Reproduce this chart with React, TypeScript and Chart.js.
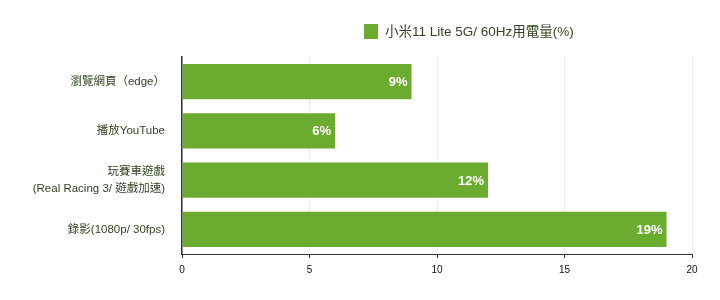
import React, { useEffect, useRef } from "react";
import { Chart, registerables } from "chart.js";

Chart.register(...registerables);

const categories: (string | string[])[] = [
  "瀏覽網頁（edge）",
  "播放YouTube",
  ["玩賽車遊戲", "(Real Racing 3/ 遊戲加速)"],
  "錄影(1080p/ 30fps)",
];
const values = [9, 6, 12, 19];
const seriesLabel = "小米11 Lite 5G/ 60Hz用電量(%)";
const xTicks = [0, 5, 10, 15, 20];

const BAR = "#6bab2f";
const TEXT = "#2f4420";
const FONT = "'Liberation Sans', 'Noto Sans CJK TC', sans-serif";

const overlay = {
  id: "overlay",
  afterDatasetsDraw(chart: any) {
    const ctx = chart.ctx;
    const meta = chart.getDatasetMeta(0);
    ctx.save();
    ctx.fillStyle = "#ffffff";
    ctx.font = `bold 13px ${FONT}`;
    ctx.textAlign = "right";
    ctx.textBaseline = "middle";
    meta.data.forEach((el: any, i: number) => {
      ctx.fillText(values[i] + "%", el.x - 4, el.y + 1);
    });
    ctx.restore();
    // legend
    ctx.save();
    const lx = 364;
    const ly = 31;
    ctx.fillStyle = BAR;
    ctx.fillRect(lx, ly - 7, 14, 15);
    ctx.fillStyle = TEXT;
    ctx.font = `13.5px ${FONT}`;
    ctx.textAlign = "left";
    ctx.textBaseline = "middle";
    ctx.fillText(seriesLabel, lx + 21, ly + 1);
    ctx.restore();
  },
};

export default function App() {
  const ref = useRef<HTMLCanvasElement>(null);
  useEffect(() => {
    if (!ref.current) return;
    const chart = new Chart(ref.current, {
      type: "bar",
      data: {
        labels: categories,
        datasets: [
          {
            label: seriesLabel,
            data: values,
            backgroundColor: BAR,
            borderWidth: 0,
            categoryPercentage: 1,
            barPercentage: 0.72,
          },
        ],
      },
      options: {
        indexAxis: "y",
        animation: false,
        responsive: false,
        maintainAspectRatio: false,
        layout: { padding: { top: 57, right: 28, bottom: 0, left: 0 } },
        plugins: {
          legend: { display: false },
          tooltip: { enabled: false },
        },
        scales: {
          x: {
            min: 0,
            max: 20,
            afterBuildTicks(scale: any) {
              scale.ticks = xTicks.map((v) => ({ value: v }));
            },
            afterFit(scale: any) {
              scale.height = 46;
            },
            grid: {
              color: "#ececec",
              tickColor: "#333333",
              tickLength: 4,
              drawOnChartArea: true,
            },
            border: { color: "#333333", width: 1 },
            ticks: {
              color: "#111111",
              font: { family: FONT, size: 10 },
              padding: 6,
            },
          },
          y: {
            afterFit(scale: any) {
              scale.width = 182;
            },
            grid: { display: false },
            border: { color: "#333333", width: 1.5 },
            ticks: {
              color: TEXT,
              font: { family: FONT, size: 11.5, lineHeight: 1.45 },
              padding: 9,
            },
          },
        },
      },
      plugins: [overlay],
    });
    return () => chart.destroy();
  }, []);
  return (
    <div style={{ position: "fixed", left: 0, top: 0, width: 720, height: 300, background: "#fff" }}>
      <canvas ref={ref} width={720} height={300} style={{ width: 720, height: 300 }} />
    </div>
  );
}
